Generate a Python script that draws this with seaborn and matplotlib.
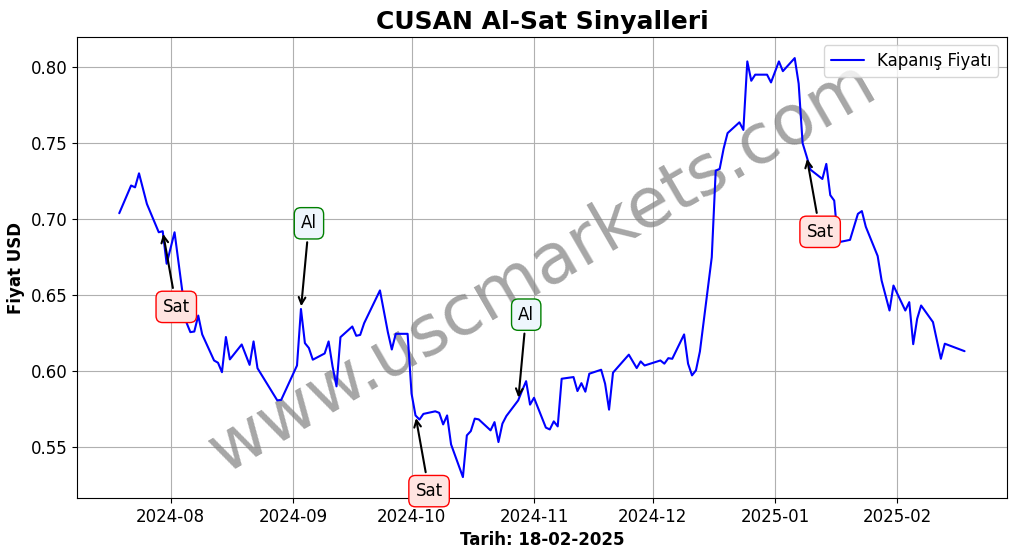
import matplotlib
matplotlib.use("Agg")
import matplotlib.pyplot as plt
import matplotlib.dates as mdates
import pandas as pd
import seaborn as sns

dates = [
    "2024-07-19", "2024-07-22", "2024-07-23", "2024-07-24", "2024-07-26", "2024-07-29",
    "2024-07-30", "2024-07-31", "2024-08-02", "2024-08-05", "2024-08-06", "2024-08-07",
    "2024-08-08", "2024-08-09", "2024-08-12", "2024-08-13", "2024-08-14", "2024-08-15",
    "2024-08-16", "2024-08-19", "2024-08-21", "2024-08-22", "2024-08-23", "2024-08-28",
    "2024-08-29", "2024-09-02", "2024-09-03", "2024-09-04", "2024-09-05", "2024-09-06",
    "2024-09-09", "2024-09-10", "2024-09-11", "2024-09-12", "2024-09-13", "2024-09-16",
    "2024-09-17", "2024-09-18", "2024-09-19", "2024-09-23", "2024-09-25", "2024-09-26",
    "2024-09-27", "2024-09-30", "2024-10-01", "2024-10-02", "2024-10-03", "2024-10-04",
    "2024-10-07", "2024-10-08", "2024-10-09", "2024-10-10", "2024-10-11", "2024-10-14",
    "2024-10-15", "2024-10-16", "2024-10-17", "2024-10-18", "2024-10-21", "2024-10-22",
    "2024-10-23", "2024-10-24", "2024-10-25", "2024-10-28", "2024-10-29", "2024-10-30",
    "2024-10-31", "2024-11-01", "2024-11-04", "2024-11-05", "2024-11-06", "2024-11-07",
    "2024-11-08", "2024-11-11", "2024-11-12", "2024-11-13", "2024-11-14", "2024-11-15",
    "2024-11-18", "2024-11-19", "2024-11-20", "2024-11-21", "2024-11-25", "2024-11-27",
    "2024-11-28", "2024-11-29", "2024-12-03", "2024-12-04", "2024-12-05", "2024-12-06",
    "2024-12-09", "2024-12-10", "2024-12-11", "2024-12-12", "2024-12-13", "2024-12-16",
    "2024-12-17", "2024-12-18", "2024-12-19", "2024-12-20", "2024-12-23", "2024-12-24",
    "2024-12-25", "2024-12-26", "2024-12-27", "2024-12-30", "2024-12-31", "2025-01-02",
    "2025-01-03", "2025-01-06", "2025-01-07", "2025-01-08", "2025-01-09", "2025-01-10",
    "2025-01-13", "2025-01-14", "2025-01-15", "2025-01-16", "2025-01-17", "2025-01-20",
    "2025-01-22", "2025-01-23", "2025-01-24", "2025-01-27", "2025-01-28", "2025-01-30",
    "2025-01-31", "2025-02-03", "2025-02-04", "2025-02-05", "2025-02-06", "2025-02-07",
    "2025-02-10", "2025-02-12", "2025-02-13", "2025-02-18",
]

prices = [
    0.7037, 0.7219, 0.7207, 0.7299, 0.7098, 0.6912,
    0.6919, 0.6705, 0.6912, 0.6320, 0.6256, 0.6260,
    0.6365, 0.6241, 0.6070, 0.6055, 0.5993, 0.6224,
    0.6077, 0.6175, 0.6041, 0.6195, 0.6019, 0.5808,
    0.5811, 0.6037, 0.6408, 0.6184, 0.6152, 0.6075,
    0.6116, 0.6195, 0.6031, 0.5900, 0.6223, 0.6293,
    0.6232, 0.6238, 0.6315, 0.6530, 0.6256, 0.6142,
    0.6245, 0.6245, 0.5852, 0.5709, 0.5682, 0.5719,
    0.5736, 0.5726, 0.5650, 0.5709, 0.5519, 0.5304,
    0.5578, 0.5606, 0.5688, 0.5683, 0.5611, 0.5665,
    0.5534, 0.5655, 0.5705, 0.5808, 0.5873, 0.5934,
    0.5780, 0.5825, 0.5629, 0.5617, 0.5670, 0.5637,
    0.5950, 0.5961, 0.5869, 0.5921, 0.5865, 0.5983,
    0.6009, 0.5917, 0.5747, 0.5990, 0.6108, 0.6020,
    0.6064, 0.6037, 0.6070, 0.6049, 0.6085, 0.6081,
    0.6241, 0.6049, 0.5972, 0.6005, 0.6129, 0.6748,
    0.7317, 0.7328, 0.7461, 0.7563, 0.7634, 0.7584,
    0.8034, 0.7907, 0.7947, 0.7947, 0.7896, 0.8034,
    0.7970, 0.8056, 0.7888, 0.7497, 0.7412, 0.7323,
    0.7262, 0.7361, 0.7156, 0.7120, 0.6846, 0.6862,
    0.7033, 0.7051, 0.6948, 0.6756, 0.6595, 0.6398,
    0.6562, 0.6398, 0.6453, 0.6177, 0.6344, 0.6431,
    0.6322, 0.6081, 0.6180, 0.6131,
]

buy_dates = ["2024-09-03", "2024-10-28"]
sell_dates = ["2024-07-30", "2024-10-02", "2025-01-09"]

title = "CUSAN Al-Sat Sinyalleri"
xlabel = "Tarih: 18-02-2025"
ylabel = "Fiyat USD"
legend_label = "Kapanış Fiyatı"
watermark = "www.uscmarkets.com"

df = pd.DataFrame({"Tarih": pd.to_datetime(dates), "Fiyat": prices})
price_of = dict(zip(df["Tarih"], df["Fiyat"]))

sns.set_style("ticks", {
    "axes.edgecolor": "black", "axes.grid": True, "grid.color": "#b0b0b0",
    "xtick.color": "black", "ytick.color": "black", "text.color": "black",
    "axes.labelcolor": "black",
})
plt.rcParams["font.family"] = ["DejaVu Sans"]

fig, ax = plt.subplots(figsize=(10.17, 5.54), dpi=100)
fig.subplots_adjust(left=0.0757, right=0.990, top=0.933, bottom=0.101)

sns.lineplot(data=df, x="Tarih", y="Fiyat", ax=ax, color="blue", linewidth=1.5,
             label=legend_label, zorder=3)

ax.text(0.5, 0.5, watermark, transform=ax.transAxes, fontsize=50, color="gray",
        alpha=0.7, rotation=30, ha="center", va="center", zorder=2)

offset = 0.053
for d in sell_dates:
    t = pd.Timestamp(d)
    p = price_of[t]
    ax.annotate("Sat", xy=(t, p), xytext=(t, p - offset), fontsize=12,
                arrowprops=dict(arrowstyle="->", color="black", lw=1.5),
                bbox=dict(boxstyle="round,pad=0.4", fc="#ffe4e1", ec="red"), zorder=5)
for d in buy_dates:
    t = pd.Timestamp(d)
    p = price_of[t]
    ax.annotate("Al", xy=(t, p), xytext=(t, p + offset), fontsize=12,
                arrowprops=dict(arrowstyle="->", color="black", lw=1.5),
                bbox=dict(boxstyle="round,pad=0.4", fc="#eef6fc", ec="green"), zorder=5)

ax.xaxis.set_major_locator(mdates.MonthLocator())
ax.xaxis.set_major_formatter(mdates.DateFormatter("%Y-%m"))
ax.tick_params(labelsize=12)
ax.set_title(title, fontsize=18, fontweight="bold")
ax.set_xlabel(xlabel, fontsize=12, fontweight="bold")
ax.set_ylabel(ylabel, fontsize=12, fontweight="bold")
ax.grid(True, color="#b0b0b0", linewidth=0.8)
ax.legend(loc="upper right", fontsize=12)

fig.savefig("out.png", dpi=100)
